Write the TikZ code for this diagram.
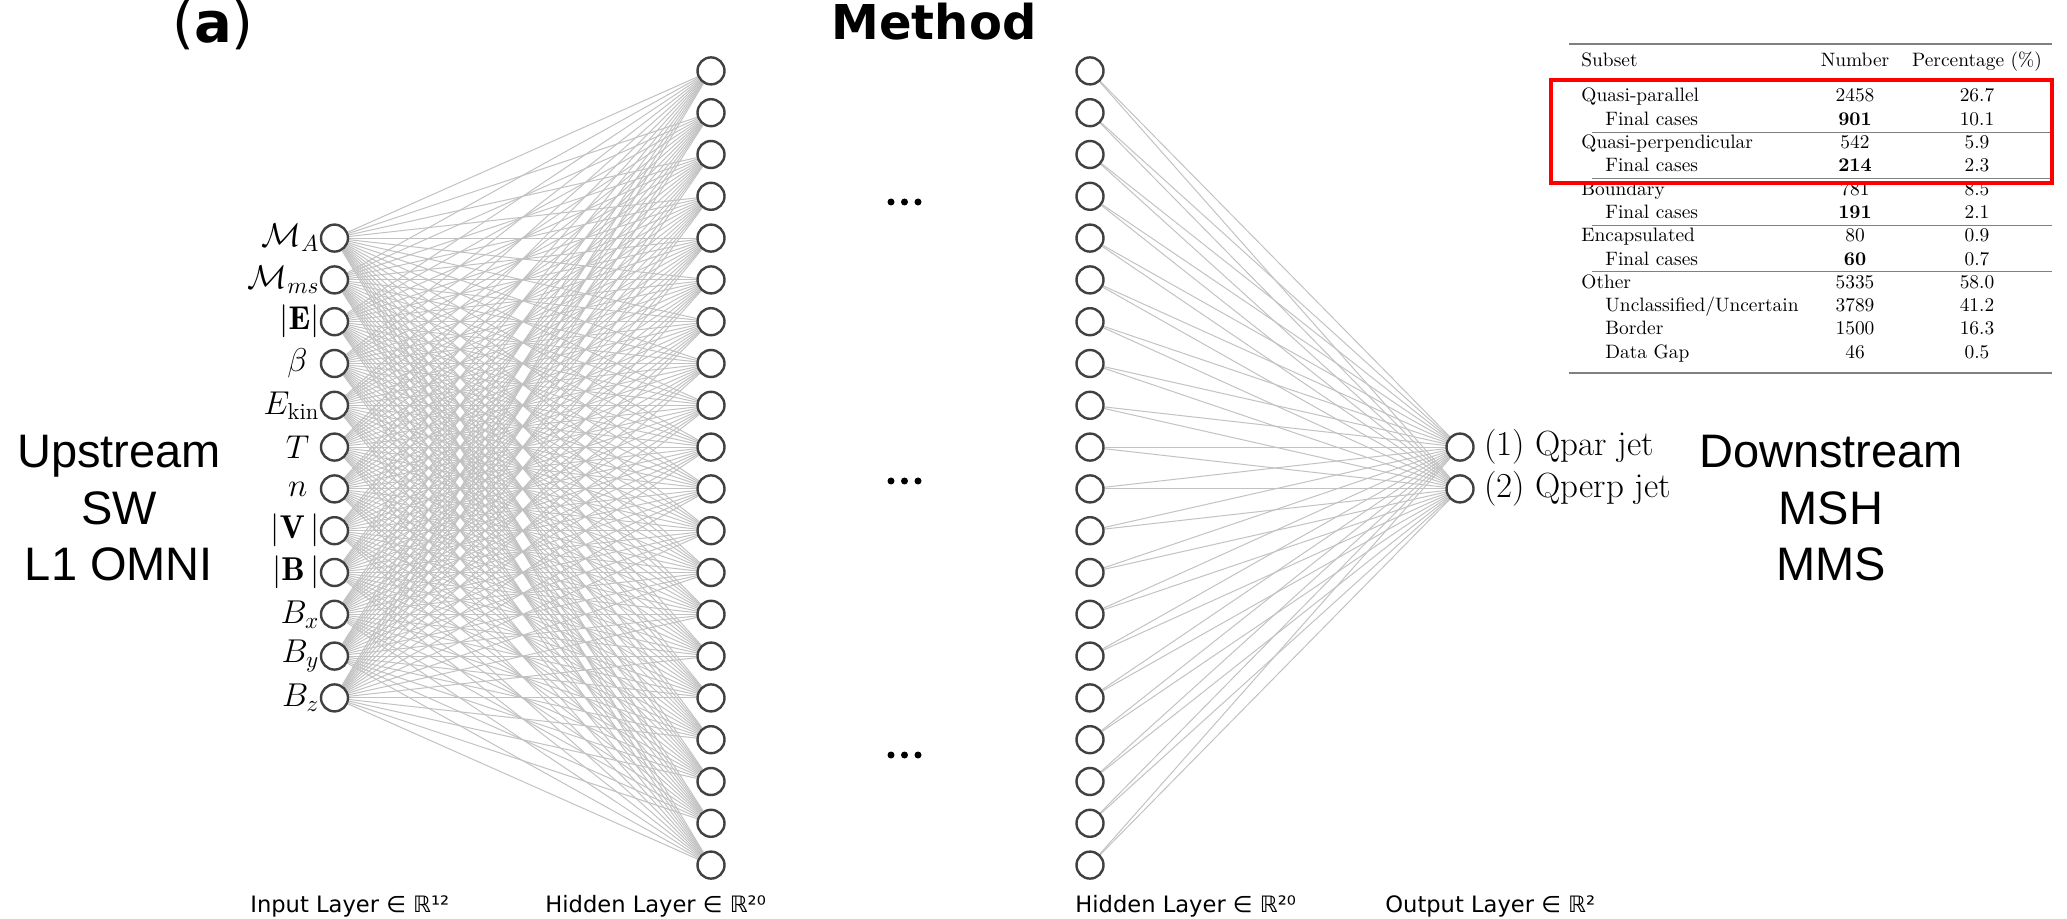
\RequirePackage{fix-cm}
\documentclass[tikz,border=0pt]{standalone}
\usepackage{fontspec}
\newfontfamily\dejavu{DejaVu Sans}
\newfontfamily\libsans{Liberation Sans}
\usetikzlibrary{backgrounds}
\begin{document}
\begin{tikzpicture}[x=0.5pt,y=-0.5pt,
  neuron/.style={circle,draw=black!75,line width=1.2pt,fill=white,minimum size=13.5pt,inner sep=0pt},
  edge/.style={draw=black!24,line width=0.5pt},
  inlabel/.style={anchor=east,inner sep=0pt,font=\fontsize{16.5}{19}\selectfont},
  outlabel/.style={anchor=west,inner sep=0pt,font=\fontsize{17.5}{20}\selectfont},
  bigside/.style={anchor=base,inner sep=0pt,font=\libsans\fontsize{23.5}{28}\selectfont},
  layerlabel/.style={anchor=base west,inner sep=0pt,font=\dejavu\fontsize{11.3}{13}\selectfont},
  dotmark/.style={circle,fill=black,minimum size=3.5pt,inner sep=0pt},
  tcell/.style={inner sep=0pt,font=\fontsize{9.7}{11}\selectfont},
  toprule/.style={draw=black!50,line width=0.75pt},
  midrule/.style={draw=black!50,line width=0.5pt}]
\useasboundingbox (0,0) rectangle (2067,919);

% neurons
\foreach \j in {0,...,11} \node[neuron] (i\j) at (334.5,{468+(\j-5.5)*41.8}) {};
\foreach \k in {0,...,19} \node[neuron] (a\k) at (711,{468+(\k-9.5)*41.8}) {};
\foreach \k in {0,...,19} \node[neuron] (b\k) at (1090,{468+(\k-9.5)*41.8}) {};
\foreach \m in {0,1} \node[neuron] (o\m) at (1460,{468+(\m-0.5)*41.8}) {};

% connections
\begin{scope}[on background layer]
\foreach \j in {0,...,11} \foreach \k in {0,...,19} \draw[edge] (i\j) -- (a\k);
\foreach \k in {0,...,19} \foreach \m in {0,1} \draw[edge] (b\k) -- (o\m);
\end{scope}

% input labels
\node[inlabel] (l0) at (i0.west) {$\mathcal{M}_A$};
\node[inlabel] (l1) at (i1.west) {$\mathcal{M}_{ms}$};
\node[inlabel] (l2) at (i2.west) {$|\mathbf{E}|$};
\node[inlabel] (l3) at ([xshift=-6pt]i3.west) {$\beta$};
\node[inlabel] (l4) at (i4.west) {$E_{\mathrm{kin}}$};
\node[inlabel] (l5) at ([xshift=-5pt]i5.west) {$T$};
\node[inlabel] (l6) at ([xshift=-6pt]i6.west) {$n$};
\node[inlabel] (l7) at (i7.west) {$|\mathbf{V}\,|$};
\node[inlabel] (l8) at (i8.west) {$|\mathbf{B}\,|$};
\node[inlabel] (l9) at (i9.west) {$B_x$};
\node[inlabel] (l10) at (i10.west) {$B_y$};
\node[inlabel] (l11) at (i11.west) {$B_z$};

% output labels
\node[outlabel] (ol0) at ([xshift=4.5pt]o0.east) {(1) Qpar jet};
\node[outlabel] (ol1) at ([xshift=4.5pt]o1.east) {(2) Qperp jet};

% side texts
\node[bigside] (up1) at (119,467) {Upstream};
\node[bigside] (up2) at (119,524) {SW};
\node[bigside] (up3) at (119,581) {L1 OMNI};
\node[bigside] (dn1) at (1831,467) {Downstream};
\node[bigside] (dn2) at (1831,524) {MSH};
\node[bigside] (dn3) at (1831,581) {MMS};

% titles
\node[anchor=base,inner sep=0pt,font=\dejavu\bfseries\fontsize{24}{28}\selectfont] (title) at (934,40) {Method};
\node[anchor=base,inner sep=0pt,font=\dejavu\fontsize{28}{32}\selectfont] (panel) at (213,43) {(\textbf{a})};

% dots
\foreach \yy [count=\n] in {202,481,755} {
  \node[dotmark] (d\n a) at (891,\yy) {};
  \node[dotmark] (d\n b) at (904.5,\yy) {};
  \node[dotmark] (d\n c) at (918,\yy) {};
}

% layer labels
\node[layerlabel] (ll1) at (250,912) {Input Layer ∈ ℝ¹²};
\node[layerlabel] (ll2) at (545,912) {Hidden Layer ∈ ℝ²⁰};
\node[layerlabel] (ll3) at (1075,912) {Hidden Layer ∈ ℝ²⁰};
\node[layerlabel] (ll4) at (1385,912) {Output Layer ∈ ℝ²};

% table
\draw[toprule] (1569,44) -- (2052,44);
\node[tcell,anchor=base west] (th1) at (1581,67) {Subset};
\node[tcell,anchor=base] (th2) at (1855,67) {Number};
\node[tcell,anchor=base] (th3) at (1977,67) {Percentage (\%)};
\foreach \nm/\num/\pct/\ind [count=\r from 0] in {
  Quasi-parallel/2458/26.7/0,
  Final cases/\textbf{901}/10.1/1,
  Quasi-perpendicular/542/5.9/0,
  Final cases/\textbf{214}/2.3/1,
  Boundary/781/8.5/0,
  Final cases/\textbf{191}/2.1/1,
  Encapsulated/80/0.9/0,
  Final cases/\textbf{60}/0.7/1,
  Other/5335/58.0/0,
  {Unclassified/Uncertain}/3789/41.2/1,
  Border/1500/16.3/1,
  Data Gap/46/0.5/1} {
  \node[tcell,anchor=base west] (ta\r) at ({1581+24*\ind},{102+23.3*\r}) {\nm};
  \node[tcell,anchor=base] (tb\r) at (1855,{102+23.3*\r}) {\num};
  \node[tcell,anchor=base] (tc\r) at (1977,{102+23.3*\r}) {\pct};
}
\foreach \yy in {133,179,226,272} \draw[midrule] (1592,\yy) -- (2052,\yy);
\draw[toprule] (1569,373) -- (2052,373);
\draw[red,line width=1.75pt] (1551,80) rectangle (2052,183);
\end{tikzpicture}
\end{document}
